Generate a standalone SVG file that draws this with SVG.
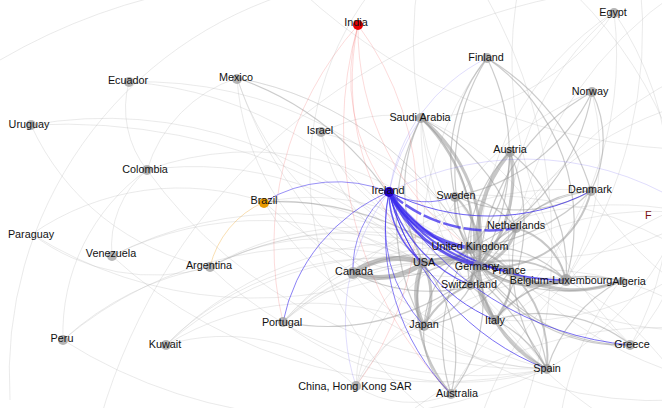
<svg xmlns="http://www.w3.org/2000/svg" width="662" height="408" viewBox="0 0 662 408">
<style>
path{fill:none}
.f{stroke:#b4b4b4;stroke-opacity:.35;stroke-width:.8}
.m{stroke:#9a9a9a;stroke-opacity:.5;stroke-width:1.2}
.t{stroke:#999;stroke-opacity:.55;stroke-width:3}
.v{stroke:#999;stroke-opacity:.6;stroke-width:5}
.b{stroke:#3a2aee;stroke-opacity:.75}
.bf{stroke:#6a5cf0;stroke-opacity:.35;stroke-width:.6}
.r{stroke:#f05050;stroke-opacity:.3;stroke-width:.7}
.o{stroke:#f0b040;stroke-opacity:.5;stroke-width:.8}
.n{fill:#9c9c9c;fill-opacity:.75}
text{font-family:"Liberation Sans",Arial,sans-serif;font-size:10.8px;fill:#111;text-anchor:middle}
</style>
<rect width="662" height="408" fill="#fff"/>
<g id="connectors">
<g class="f">
<path d="M237 78A290 290 0 0 0 423 263"/>
<path d="M237 78A450 450 0 0 0 547 369"/>
<path d="M237 78A250 250 0 0 0 353 273"/>
<path d="M237 78A330 330 0 0 1 479 266"/>
<path d="M237 78A330 330 0 0 1 470 248"/>
<path d="M147 170A320 320 0 0 1 423 263"/>
<path d="M147 170A480 480 0 0 0 547 369"/>
<path d="M147 170A140 140 0 0 1 237 78"/>
<path d="M147 170A300 300 0 0 1 470 248"/>
<path d="M129 82A370 370 0 0 1 423 263"/>
<path d="M129 82A100 100 0 0 0 147 170"/>
<path d="M129 82A400 400 0 0 1 479 266"/>
<path d="M31 125A250 250 0 0 0 210 267"/>
<path d="M31 125A600 600 0 0 1 547 369"/>
<path d="M31 125A420 420 0 0 1 423 263"/>
<path d="M32 234A200 200 0 0 0 210 267"/>
<path d="M32 234A260 260 0 0 1 264 202"/>
<path d="M32 234A420 420 0 0 0 423 263"/>
<path d="M112 256A330 330 0 0 1 423 263"/>
<path d="M112 256A480 480 0 0 0 547 369"/>
<path d="M112 256A100 100 0 0 1 147 170"/>
<path d="M112 256A380 380 0 0 1 479 266"/>
<path d="M210 267A380 380 0 0 0 547 369"/>
<path d="M210 267A230 230 0 0 1 423 263"/>
<path d="M210 267A290 290 0 0 1 479 266"/>
<path d="M210 267A300 300 0 0 1 470 248"/>
<path d="M210 267A320 320 0 0 1 510 271"/>
<path d="M63 340A390 390 0 0 1 423 263"/>
<path d="M63 340A200 200 0 0 1 147 170"/>
<path d="M63 340A500 500 0 0 0 547 369"/>
<path d="M63 340A300 300 0 0 1 210 267"/>
<path d="M166 345A290 290 0 0 1 423 263"/>
<path d="M166 345A340 340 0 0 1 470 248"/>
<path d="M166 345A280 280 0 0 1 424 326"/>
<path d="M166 345A350 350 0 0 1 479 266"/>
<path d="M166 345A200 200 0 0 1 356 386"/>
<path d="M264 202A190 190 0 0 1 423 263"/>
<path d="M264 202A240 240 0 0 1 479 266"/>
<path d="M264 202A280 280 0 0 0 510 271"/>
<path d="M264 202A350 350 0 0 0 547 369"/>
<path d="M283 322A290 290 0 0 0 547 369"/>
<path d="M283 322A250 250 0 0 1 510 271"/>
<path d="M283 322A220 220 0 0 1 479 266"/>
<path d="M283 322A220 220 0 0 1 470 248"/>
<path d="M283 322A270 270 0 0 1 516 228"/>
<path d="M283 322A200 200 0 0 1 423 263"/>
<path d="M321 133A180 180 0 0 0 423 263"/>
<path d="M321 133A200 200 0 0 0 470 248"/>
<path d="M321 133A220 220 0 0 1 479 266"/>
<path d="M321 133A150 150 0 0 1 421 118"/>
<path d="M356 386A150 150 0 0 1 423 263"/>
<path d="M356 386A190 190 0 0 1 470 248"/>
<path d="M356 386A100 100 0 0 1 424 326"/>
<path d="M356 386A100 100 0 0 0 451 394"/>
<path d="M356 386A250 250 0 0 1 510 271"/>
<path d="M614 12A300 300 0 0 0 510 271"/>
<path d="M614 12A300 300 0 0 0 479 266"/>
<path d="M614 12A350 350 0 0 1 495 320"/>
<path d="M614 12A240 240 0 0 1 421 118"/>
<path d="M614 12A320 320 0 0 1 631 345"/>
<path d="M487 58A300 300 0 0 0 423 263"/>
<path d="M592 92A300 300 0 0 0 423 263"/>
<path d="M592 92A250 250 0 0 1 566 280"/>
<path d="M421 118A250 250 0 0 1 566 280"/>
<path d="M421 118A300 300 0 0 0 547 369"/>
<path d="M631 345A300 300 0 0 0 423 263"/>
<path d="M620 281A250 250 0 0 0 424 326"/>
<path d="M451 394A250 250 0 0 1 566 280"/>
<path d="M547 369A260 260 0 0 1 353 273"/>
<path d="M353 273A300 300 0 0 1 591 191"/>
<path d="M420 -30A400 400 0 0 0 470 248"/>
<path d="M470 -30A500 500 0 0 1 520 420"/>
<path d="M380 -20A300 300 0 0 0 440 420"/>
<path d="M560 -20A420 420 0 0 1 700 300"/>
<path d="M300 -10A600 600 0 0 0 700 150"/>
<path d="M200 -10A500 500 0 0 1 600 -10"/>
<path d="M0 60A600 600 0 0 1 420 -10"/>
<path d="M10 400A400 400 0 0 1 300 -10"/>
<path d="M100 420A600 600 0 0 1 600 -10"/>
<path d="M700 215A300 300 0 0 0 479 266"/>
<path d="M700 215A300 300 0 0 1 470 248"/>
<path d="M700 215A350 350 0 0 0 423 263"/>
<path d="M720 60A400 400 0 0 0 516 228"/>
<path d="M720 330A300 300 0 0 0 510 271"/>
<path d="M720 330A350 350 0 0 1 470 248"/>
<path d="M700 420A300 300 0 0 0 566 280"/>
<path d="M680 400A400 400 0 0 1 424 326"/>
<path d="M700 140A300 300 0 0 1 547 369"/>
<path d="M700 380A400 400 0 0 1 456 196"/>
<path d="M610 420A400 400 0 0 1 421 118"/>
<path d="M700 100A350 350 0 0 0 470 285"/>
<path d="M700 260A300 300 0 0 1 495 320"/>
<path d="M700 260A400 400 0 0 0 455 196"/>
<path d="M680 -10A400 400 0 0 0 516 228"/>
<path d="M640 -20A450 450 0 0 1 566 280"/>
<path d="M700 300A350 350 0 0 1 591 191"/>
<path d="M520 -20A400 400 0 0 0 631 345"/>
<path d="M700 180A300 300 0 0 1 631 345"/>
<path d="M560 420A300 300 0 0 1 620 281"/>
<path d="M480 420A350 350 0 0 1 700 200"/>
<path d="M400 420A400 400 0 0 1 700 330"/>
</g>
<g class="m">
<path d="M487 58A160 160 0 0 0 455 196"/>
<path d="M487 58A220 220 0 0 1 479 266"/>
<path d="M487 58A210 210 0 0 0 470 248"/>
<path d="M487 58A230 230 0 0 1 591 191"/>
<path d="M487 58A200 200 0 0 1 566 280"/>
<path d="M592 92A190 190 0 0 1 455 196"/>
<path d="M592 92A220 220 0 0 0 479 266"/>
<path d="M592 92A210 210 0 0 1 470 248"/>
<path d="M592 92A110 110 0 0 1 591 191"/>
<path d="M591 191A150 150 0 0 1 455 196"/>
<path d="M591 191A150 150 0 0 0 479 266"/>
<path d="M591 191A100 100 0 0 0 516 228"/>
<path d="M591 191A200 200 0 0 1 470 248"/>
<path d="M421 118A160 160 0 0 0 423 263"/>
<path d="M421 118A150 150 0 0 1 470 248"/>
<path d="M421 118A220 220 0 0 0 424 326"/>
<path d="M421 118A200 200 0 0 1 516 228"/>
<path d="M510 152A180 180 0 0 1 495 320"/>
<path d="M510 152A150 150 0 0 0 470 285"/>
<path d="M510 152A140 140 0 0 1 470 248"/>
<path d="M510 152A150 150 0 0 1 566 280"/>
<path d="M455 196A110 110 0 0 0 479 266"/>
<path d="M455 196A80 80 0 0 1 516 228"/>
<path d="M455 196A70 70 0 0 0 470 248"/>
<path d="M620 281A120 120 0 0 0 495 320"/>
<path d="M620 281A160 160 0 0 1 479 266"/>
<path d="M620 281A150 150 0 0 0 547 369"/>
<path d="M631 345A170 170 0 0 1 479 266"/>
<path d="M631 345A150 150 0 0 0 495 320"/>
<path d="M631 345A180 180 0 0 1 470 248"/>
<path d="M547 369A140 140 0 0 0 479 266"/>
<path d="M547 369A160 160 0 0 1 470 248"/>
<path d="M547 369A120 120 0 0 0 495 320"/>
<path d="M547 369A180 180 0 0 1 516 228"/>
<path d="M451 394A150 150 0 0 0 423 263"/>
<path d="M451 394A170 170 0 0 1 470 248"/>
<path d="M451 394A80 80 0 0 1 424 326"/>
<path d="M451 394A150 150 0 0 0 479 266"/>
<path d="M424 326A90 90 0 0 0 479 266"/>
<path d="M424 326A100 100 0 0 1 470 248"/>
<path d="M424 326A130 130 0 0 0 510 271"/>
<path d="M353 273A130 130 0 0 0 470 248"/>
<path d="M353 273A140 140 0 0 1 479 266"/>
<path d="M353 273A170 170 0 0 0 510 271"/>
<path d="M423 263A100 100 0 0 0 516 228"/>
<path d="M423 263A100 100 0 0 1 510 271"/>
<path d="M495 320A70 70 0 0 0 470 285"/>
<path d="M495 320A100 100 0 0 1 566 280"/>
<path d="M566 280A110 110 0 0 0 470 248"/>
<path d="M516 228A80 80 0 0 0 470 285"/>
<path d="M264 202A300 300 0 0 1 547 369"/>
<path d="M283 322A230 230 0 0 0 516 228"/>
<path d="M237 78A300 300 0 0 1 423 263"/>
</g>
<g class="t">
<path d="M510 152A130 130 0 0 1 479 266"/>
<path d="M479 266A140 140 0 0 1 510 152" stroke-width="4"/>
<path d="M421 118A160 160 0 0 1 479 266"/>
<path d="M421 118A180 180 0 0 1 470 285" stroke-width="2"/>
<path d="M424 326A70 70 0 0 1 423 263" stroke-width="4"/>
<path d="M423 263A70 70 0 0 1 424 326"/>
<path d="M470 248A60 60 0 0 1 423 263"/>
<path d="M423 263A70 70 0 0 1 479 266"/>
<path d="M479 266A40 40 0 0 1 510 271"/>
<path d="M516 228A50 50 0 0 1 479 266"/>
<path d="M566 280A90 90 0 0 1 479 266"/>
<path d="M479 266A90 90 0 0 1 566 280" stroke-width="2"/>
<path d="M566 280A60 60 0 0 1 510 271"/>
<path d="M566 280A70 70 0 0 0 516 228" stroke-width="2"/>
<path d="M495 320A60 60 0 0 1 479 266"/>
<path d="M510 271A60 60 0 0 1 495 320" stroke-width="2"/>
<path d="M470 285A40 40 0 0 1 479 266"/>
<path d="M547 369A120 120 0 0 1 479 266" stroke-width="2.5"/>
<path d="M510 271A120 120 0 0 1 547 369" stroke-width="2"/>
<path d="M620 281A120 120 0 0 1 510 271" stroke-width="3.5"/>
<path d="M455 196A80 80 0 0 1 479 266" stroke-width="2"/>
<path d="M591 191A100 100 0 0 1 479 266" stroke-width="2"/>
<path d="M470 248A80 80 0 0 1 510 271" stroke-width="2"/>
<path d="M424 326A90 90 0 0 1 470 285" stroke-width="2"/>
<path d="M451 394A140 140 0 0 1 423 263" stroke-width="2"/>
</g>
<g class="v">
<path d="M353 273A75 75 0 0 0 423 263"/>
<path d="M423 263A75 75 0 0 0 353 273"/>
</g>
<g class="r">
<path d="M358 25A190 190 0 0 0 389 192"/>
<path d="M358 25A270 270 0 0 0 423 263"/>
<path d="M358 25A270 270 0 0 0 470 248"/>
<path d="M358 25A300 300 0 0 1 356 386"/>
<path d="M358 25A330 330 0 0 0 283 322"/>
<path d="M358 25A380 380 0 0 0 451 394"/>
</g>
<g class="o">
<path d="M264 202A95 95 0 0 0 210 267"/>
</g>
<g class="b">
<path d="M389 192A110 110 0 0 0 470 248" stroke-width="4"/>
<path d="M389 192A130 130 0 0 0 479 266" stroke-width="3"/>
<path d="M389 192A150 150 0 0 0 516 228" stroke-width="2.5" stroke-dasharray="18 3"/>
<path d="M389 192A160 160 0 0 0 510 271" stroke-width="2"/>
<path d="M389 192A220 220 0 0 0 566 280" stroke-width="1.8"/>
<path d="M389 192A90 90 0 0 0 423 263" stroke-width="1.5"/>
<path d="M389 192A140 140 0 0 0 470 285" stroke-width="1.2"/>
<path d="M389 192A180 180 0 0 0 495 320" stroke-width="1"/>
<path d="M389 192A260 260 0 0 0 547 369" stroke-width=".9"/>
<path d="M389 192A310 310 0 0 0 631 345" stroke-width=".9"/>
<path d="M389 192A150 150 0 0 0 424 326" stroke-width=".8"/>
<path d="M389 192A230 230 0 0 0 451 394" stroke-width=".8"/>
<path d="M389 192A180 180 0 0 0 283 322" stroke-width=".8"/>
<path d="M389 192A140 140 0 0 0 264 202" stroke-width=".7"/>
<path d="M389 192A220 220 0 0 0 591 191" stroke-width="1"/>
<path d="M389 192A100 100 0 0 0 353 273" stroke-width=".7"/>
<path d="M389 192A75 75 0 0 0 455 196" stroke-width=".8"/>
</g>
<g class="bf">
<path d="M389 192A210 210 0 0 0 356 386"/>
<path d="M389 192A180 180 0 0 1 487 58"/>
<path d="M389 192A250 250 0 0 0 620 281"/>
<path d="M389 192A300 300 0 0 1 700 215"/>
<path d="M389 192A200 200 0 0 1 421 118"/>
</g>
</g>
<g id="node-india"><circle cx="358" cy="25" r="5" fill="#e60000"/><text x="356" y="26">India</text></g>
<g id="node-egypt"><circle class="n" cx="614" cy="13" r="5"/><text x="613" y="16">Egypt</text></g>
<g id="node-finland"><circle class="n" cx="487" cy="58" r="5"/><text x="486" y="61">Finland</text></g>
<g id="node-norway"><circle class="n" cx="592" cy="92" r="5"/><text x="590" y="95">Norway</text></g>
<g id="node-mexico"><circle class="n" cx="237" cy="79" r="5"/><text x="236" y="81">Mexico</text></g>
<g id="node-ecuador"><circle class="n" cx="129" cy="82" r="5"/><text x="128" y="84">Ecuador</text></g>
<g id="node-uruguay"><circle class="n" cx="31" cy="125" r="5"/><text x="29" y="128">Uruguay</text></g>
<g id="node-israel"><circle class="n" cx="321" cy="132" r="5"/><text x="320" y="134">Israel</text></g>
<g id="node-saudi-arabia"><circle class="n" cx="421" cy="118" r="5"/><text x="420" y="121">Saudi Arabia</text></g>
<g id="node-austria"><circle class="n" cx="510" cy="152" r="5"/><text x="510" y="153">Austria</text></g>
<g id="node-colombia"><circle class="n" cx="147" cy="170" r="5"/><text x="145" y="173">Colombia</text></g>
<g id="node-sweden"><circle class="n" cx="455" cy="197" r="5"/><text x="456" y="199">Sweden</text></g>
<g id="node-denmark"><circle class="n" cx="591" cy="191" r="5"/><text x="590" y="193">Denmark</text></g>
<g id="node-brazil"><circle cx="264" cy="203" r="5" fill="#e89a00"/><text x="264" y="204">Brazil</text></g>
<g id="node-netherlands"><circle class="n" cx="516" cy="228" r="5"/><text x="516" y="229">Netherlands</text></g>
<g id="node-paraguay"><text x="31" y="238">Paraguay</text></g>
<g id="node-venezuela"><circle class="n" cx="112" cy="256" r="5"/><text x="111" y="257">Venezuela</text></g>
<g id="node-argentina"><circle class="n" cx="210" cy="267" r="5"/><text x="209" y="269">Argentina</text></g>
<g id="node-united-kingdom"><circle class="n" cx="470" cy="248" r="6"/><text x="470" y="250">United Kingdom</text></g>
<g id="node-usa"><circle class="n" cx="423" cy="263" r="5"/><text x="424" y="266">USA</text></g>
<g id="node-canada"><circle class="n" cx="353" cy="273" r="6"/><text x="354" y="275">Canada</text></g>
<g id="node-germany"><circle class="n" cx="479" cy="266" r="6"/><text x="477" y="270">Germany</text></g>
<g id="node-france"><circle class="n" cx="510" cy="271" r="5"/><text x="509" y="274">France</text></g>
<g id="node-belgium-luxembourg"><circle class="n" cx="566" cy="280" r="6"/><text x="561" y="284">Belgium-Luxembourg</text></g>
<g id="node-algeria"><circle class="n" cx="622" cy="281" r="4"/><text x="629" y="285">Algeria</text></g>
<g id="node-switzerland"><circle class="n" cx="470" cy="285" r="5"/><text x="469" y="288">Switzerland</text></g>
<g id="node-portugal"><circle class="n" cx="283" cy="322" r="5"/><text x="282" y="326">Portugal</text></g>
<g id="node-japan"><circle class="n" cx="424" cy="326" r="5"/><text x="424" y="328">Japan</text></g>
<g id="node-italy"><circle class="n" cx="495" cy="320" r="5"/><text x="495" y="324">Italy</text></g>
<g id="node-peru"><circle class="n" cx="63" cy="340" r="5"/><text x="62" y="342">Peru</text></g>
<g id="node-kuwait"><circle class="n" cx="166" cy="345" r="5"/><text x="165" y="348">Kuwait</text></g>
<g id="node-greece"><circle class="n" cx="630" cy="345" r="5"/><text x="632" y="348">Greece</text></g>
<g id="node-spain"><circle class="n" cx="547" cy="369" r="5"/><text x="547" y="372">Spain</text></g>
<g id="node-china-hong-kong-sar"><circle class="n" cx="356" cy="386" r="5"/><text x="355" y="390">China, Hong Kong SAR</text></g>
<g id="node-australia"><circle class="n" cx="451" cy="394" r="5"/><text x="457" y="397">Australia</text></g>
<g id="node-f"><text x="645" y="219" style="fill:#7a1010;text-anchor:start">F</text></g>
<g id="node-ireland"><circle cx="389" cy="192" r="5" fill="#2200cc"/><text x="388" y="194">Ireland</text></g>
</svg>
